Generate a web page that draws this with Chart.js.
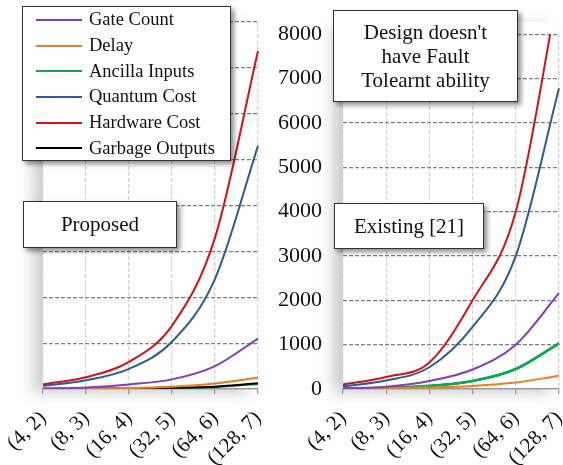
<!DOCTYPE html>
<html lang="en">
<head>
    <meta charset="UTF-8">
    <title>Proposed vs Existing</title>
    <script src="https://cdn.jsdelivr.net/npm/chart.js@4.4.1/dist/chart.umd.min.js"></script>
    <style>
        body {
            margin: 0;
            background: #fff;
            font-family: "Times New Roman", "Liberation Serif", Tinos, "DejaVu Serif", "Noto Serif", serif;
        }
        .stage {
            position: relative;
            width: 563px;
            height: 465px;
            overflow: hidden;
            background: #fff;
        }
        .plotbg {
            position: absolute;
            background: #fff;
            box-shadow: -10px 4px 14px rgba(0, 0, 0, 0.2);
        }
        .wrap {
            position: absolute;
            top: 0;
        }
        .box {
            position: absolute;
            background: #fff;
            border: 1px solid #333;
            box-shadow: 3px 3px 5px rgba(0, 0, 0, 0.45);
            text-align: center;
            color: #111;
            box-sizing: border-box;
        }
        .legend {
            position: absolute;
            left: 22px;
            top: 6px;
            width: 209px;
            height: 155px;
            background: #fff;
            border: 1px solid #333;
            box-shadow: 3px 3px 5px rgba(0, 0, 0, 0.45);
            box-sizing: border-box;
        }
        .legend .row {
            display: flex;
            align-items: center;
            height: 25.7px;
            font-size: 18.5px;
            color: #111;
        }
        .legend .swatch {
            width: 46px;
            height: 2px;
            margin-left: 13px;
            margin-right: 7px;
        }
    </style>
</head>
<body>
<div class="stage">
    <div class="plotbg" style="left:43px; top:22px; width:215px; height:367px;"></div>
    <div class="plotbg" style="left:343px; top:22px; width:216px; height:367px;"></div>
    <div class="wrap" style="left:0;"><canvas id="leftChart" width="280" height="465"></canvas></div>
    <div class="wrap" style="left:250px;"><canvas id="rightChart" width="313" height="465"></canvas></div>

    <div class="legend" id="legend"></div>
    <div class="box" style="left:23px; top:201px; width:154px; height:47px; font-size:21px; line-height:45px;">Proposed</div>
    <div class="box" style="left:334px; top:203px; width:150px; height:46px; font-size:21px; line-height:44px;">Existing [21]</div>
    <div class="box" style="left:333px; top:10px; width:185px; height:92px; font-size:21px; line-height:24px; padding-top:9px;">Design doesn't<br>have Fault<br>Tolearnt ability</div>
</div>

<script>
    const FONT = '"Times New Roman", "Liberation Serif", Tinos, "DejaVu Serif", serif';

    // categories (n, log n)
    const categories = ['(4, 2)', '(8, 3)', '(16, 4)', '(32, 5)', '(64, 6)', '(128, 7)'];

    const seriesNames = ['Gate Count', 'Delay', 'Ancilla Inputs', 'Quantum Cost', 'Hardware Cost', 'Garbage Outputs'];
    const seriesColors = ['#7f3fbf', '#f07c1e', '#00b050', '#2f5b94', '#d0121b', '#000000'];

    // Proposed design
    const proposedGateCount = [10, 35, 100, 210, 500, 1100];
    const proposedDelay = [5, 10, 20, 50, 120, 245];
    const proposedAncilla = [2, 4, 8, 18, 40, 110];
    const proposedQuantumCost = [70, 190, 440, 1030, 2400, 5300];
    const proposedHardwareCost = [100, 255, 590, 1380, 3300, 7370];
    const proposedGarbage = [5, 8, 14, 25, 50, 123];

    // Existing design [21]
    const existingGateCount = [10, 50, 180, 440, 1000, 2160];
    const existingDelay = [10, 18, 35, 70, 145, 300];
    const existingAncilla = [10, 25, 70, 180, 450, 1030];
    const existingQuantumCost = [60, 190, 490, 1400, 3000, 6780];
    const existingHardwareCost = [100, 270, 600, 2000, 4000, 9100];
    const existingGarbage = [10, 25, 70, 180, 450, 1030];

    const yMax = 8000;
    const yStep = 1000;

    // legend
    const legendEl = document.getElementById('legend');
    seriesNames.forEach((name, i) => {
        const row = document.createElement('div');
        row.className = 'row';
        row.innerHTML = '<span class="swatch" style="background:' + seriesColors[i] + '"></span><span>' + name + '</span>';
        legendEl.appendChild(row);
    });

    function makeChart(id, seriesData, opts) {
        const datasets = seriesData.map((data, i) => ({
            label: seriesNames[i],
            data: data,
            borderColor: seriesColors[i],
            backgroundColor: seriesColors[i],
            borderWidth: opts.widths ? opts.widths[i] : 2,
            pointRadius: 0,
            cubicInterpolationMode: 'monotone',
            fill: false,
            order: opts.order[i]
        }));

        return new Chart(document.getElementById(id), {
            type: 'line',
            data: { labels: categories, datasets: datasets },
            options: {
                responsive: false,
                animation: false,
                layout: { padding: { top: 22, right: opts.rightPad, left: 0, bottom: 0 } },
                plugins: { legend: { display: false }, tooltip: { enabled: false } },
                scales: {
                    x: {
                        offset: false,
                        grid: { color: '#d4d4d4', lineWidth: 1.3, tickLength: 5, tickColor: '#9a9a9a', offset: false },
                        border: { display: true, color: '#9a9a9a', width: 1.3, dash: [4, 2] },
                        ticks: {
                            color: '#111',
                            font: { family: FONT, size: 21 },
                            minRotation: 45,
                            maxRotation: 45,
                            padding: 12,
                            autoSkip: false
                        },
                        afterFit: (scale) => {
                            scale.height = 76;
                            scale.paddingLeft = 0;
                            scale.paddingRight = 0;
                        }
                    },
                    y: {
                        min: 0,
                        max: yMax,
                        grid: { color: '#7f7f7f', lineWidth: 1.2, drawTicks: false },
                        border: { display: false, dash: [4, 2] },
                        ticks: {
                            display: opts.showY,
                            stepSize: yStep,
                            color: '#111',
                            padding: 21,
                            font: { family: FONT, size: 22 },
                            callback: (v) => String(v)
                        },
                        afterFit: (scale) => {
                            scale.width = opts.leftWidth;
                        }
                    }
                }
            }
        });
    }

    makeChart('leftChart',
        [proposedGateCount, proposedDelay, proposedAncilla, proposedQuantumCost, proposedHardwareCost, proposedGarbage],
        { showY: false, leftWidth: 43, rightPad: 22, order: [2, 3, 5, 1, 0, 4] });

    makeChart('rightChart',
        [existingGateCount, existingDelay, existingAncilla, existingQuantumCost, existingHardwareCost, existingGarbage],
        { showY: true, leftWidth: 93, rightPad: 4, order: [2, 3, 4, 1, 0, 5], widths: [2, 2, 2.6, 2, 2, 2] });
</script>
</body>
</html>
